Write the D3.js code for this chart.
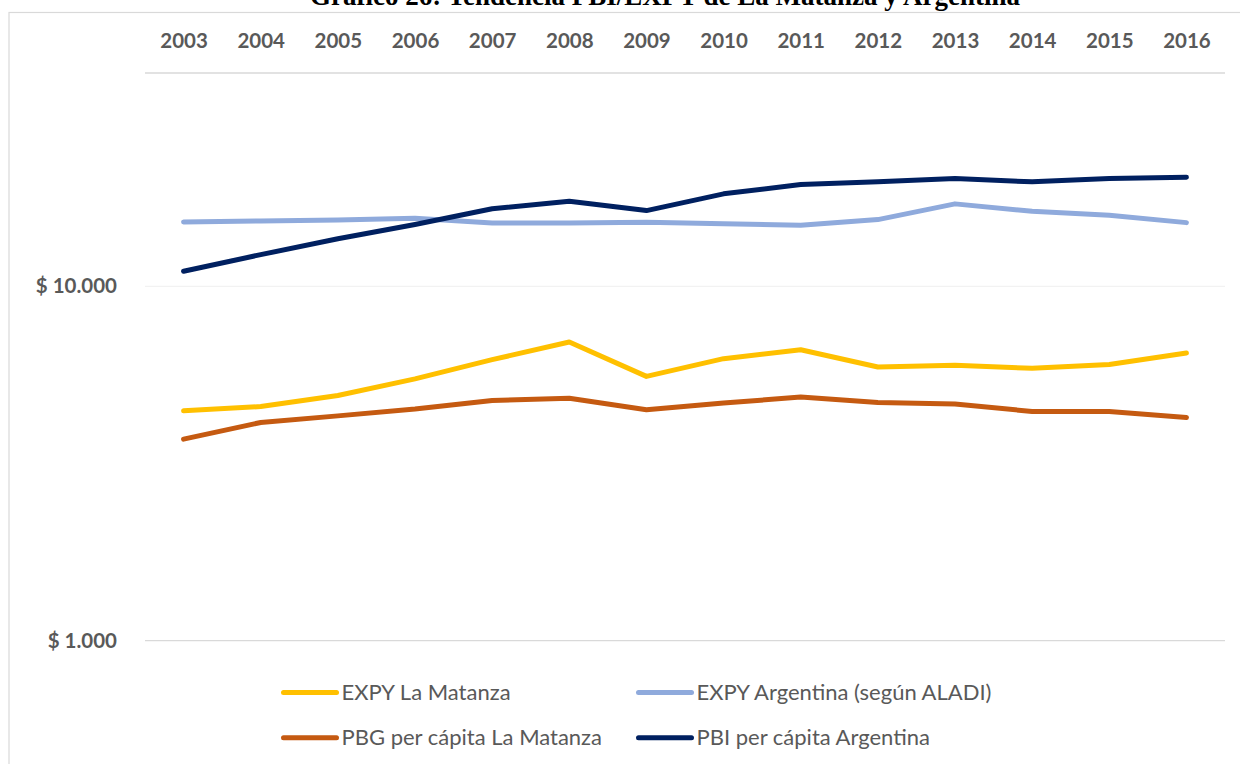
<!DOCTYPE html>
<html><head><meta charset="utf-8">
<script src="https://cdn.jsdelivr.net/npm/d3@7"></script>
<style>html,body{margin:0;padding:0;background:#fff;overflow:hidden}</style>
</head><body>
<svg id="chart" width="1240" height="764"></svg>
<script>
const years = [2003,2004,2005,2006,2007,2008,2009,2010,2011,2012,2013,2014,2015,2016];
const expyMatanza   = [4455,4580,4920,5480,6210,6965,5570,6250,6625,5920,5985,5870,6020,6485];
const expyArgentina = [15200,15300,15400,15560,15100,15100,15160,15030,14870,15430,17090,16290,15870,15130];
const pbgMatanza    = [3705,4130,4310,4505,4765,4830,4485,4685,4870,4700,4655,4435,4435,4265];
const pbiArgentina  = [11030,12290,13630,14940,16550,17390,16360,18240,19380,19720,20150,19720,20150,20320];
const yTicks = [1000, 10000];
const yTickLabels = ["$ 1.000", "$ 10.000"];
const yDomain = [1000, 40000];
const title = "Gráfico 26: Tendencia PBI/EXPY de La Matanza y Argentina";

const series = [
  {name:"EXPY La Matanza", values:expyMatanza, color:"#FFC000"},
  {name:"EXPY Argentina (según ALADI)", values:expyArgentina, color:"#8FAADC"},
  {name:"PBG per cápita La Matanza", values:pbgMatanza, color:"#C55A11"},
  {name:"PBI per cápita Argentina", values:pbiArgentina, color:"#002060"}
];

const svg = d3.select("#chart");
const gray = "#595959";

// chart border
svg.append("rect").attr("x",9).attr("y",12.5).attr("width",1300).attr("height",900)
  .attr("fill","none").attr("stroke","#d9d9d9").attr("stroke-width",1.2);

// title
svg.append("text").attr("x",665).attr("y",4.5).attr("text-anchor","middle")
  .attr("font-family","'Liberation Serif', 'Times New Roman', serif").attr("font-weight","bold")
  .attr("font-size",27).attr("fill","#000").text(title);

const x = d3.scalePoint().domain(years).range([145,1225]).padding(0.5);
const y = d3.scaleLog().domain(yDomain).range([640.7,73]);

// gridlines
svg.append("g").selectAll("line").data(yTicks).join("line")
  .attr("x1",145).attr("x2",1225).attr("y1",d=>y(d)).attr("y2",d=>y(d))
  .attr("stroke",d=>d===1000?"#d9d9d9":"#f2f2f2").attr("stroke-width",1.3);

// top category axis
const xAxis = d3.axisTop(x).tickSize(0).tickPadding(0);
const gx = svg.append("g").attr("transform",`translate(0,${y(yDomain[1])})`).call(xAxis);
gx.select(".domain").attr("stroke","#d9d9d9").attr("stroke-width",1.3)
  .attr("d","M145,0H1225");
gx.selectAll("text").attr("y",-32).attr("dy","0.35em")
  .attr("font-family","Lato, 'Open Sans', sans-serif").attr("font-weight","bold")
  .attr("font-size",20.5).attr("fill",gray);

// y labels
const yAxis = d3.axisLeft(y).tickValues(yTicks).tickFormat((d,i)=>yTickLabels[i]).tickSize(0).tickPadding(0);
const gy = svg.append("g").attr("transform","translate(117,0)").call(yAxis);
gy.select(".domain").remove();
gy.selectAll("text").attr("font-family","Lato, 'Open Sans', sans-serif").attr("font-weight","bold")
  .attr("font-size",20.5).attr("fill",gray);

// lines
const line = d3.line().x((d,i)=>x(years[i])).y(d=>y(d));
svg.append("g").selectAll("path").data(series).join("path")
  .attr("d",d=>line(d.values)).attr("fill","none").attr("stroke",d=>d.color)
  .attr("stroke-width",5).attr("stroke-linejoin","round").attr("stroke-linecap","round");

// legend
const legPos = [[283.5,692.5],[638.5,692.5],[283.5,737.7],[638.5,737.7]];
const lg = svg.append("g").selectAll("g").data(series).join("g")
  .attr("transform",(d,i)=>`translate(${legPos[i][0]},${legPos[i][1]})`);
lg.append("line").attr("x1",0).attr("x2",53).attr("stroke",d=>d.color)
  .attr("stroke-width",5).attr("stroke-linecap","round");
lg.append("text").attr("x",58).attr("dy","0.35em")
  .attr("font-family","Lato, 'Open Sans', sans-serif").attr("font-size",22)
  .attr("fill",gray).text(d=>d.name);
</script>
</body></html>
